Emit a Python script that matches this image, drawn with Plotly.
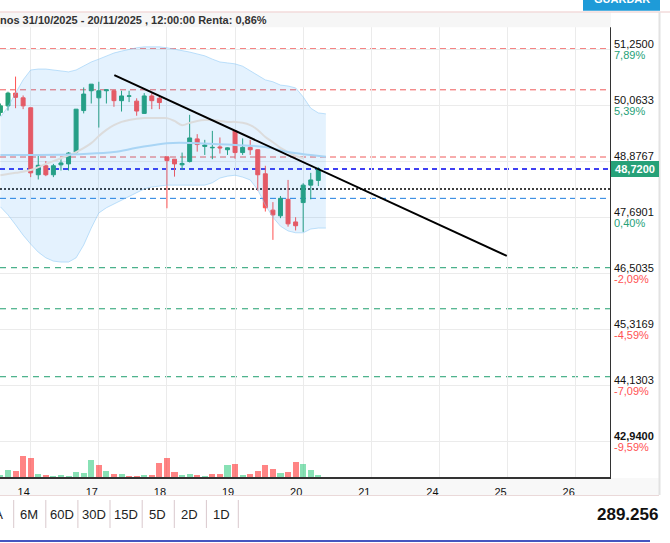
import plotly.graph_objects as go

# ---------------- data ----------------
# hourly candles (index 0 = last bars of day 13, 9 bars per trading day)
idx = list(range(43))
open_ = [49.92, 50.06, 50.33, 50.23, 50.02, 48.60, 48.79, 48.60, 48.81, 48.83,
         49.08, 49.96, 50.38, 50.23, 50.38, 50.38, 50.17, 50.265, 50.16, 49.90,
         50.27, 50.22, 48.98, 48.93, 48.81, 48.88, 49.36, 49.20, 49.17, 49.19,
         49.13, 49.53, 49.07, 49.18, 49.13, 48.62, 47.85, 47.73, 48.08, 47.60,
         48.01, 48.38, 48.48]
high = [50.11, 50.36, 50.68, 50.28, 50.02, 49.02, 48.89, 48.83, 48.93, 49.08,
        49.99, 50.45, 50.52, 50.57, 50.41, 50.40, 50.38, 50.38, 50.22, 50.33,
        50.33, 50.26, 48.98, 48.93, 49.07, 49.87, 49.46, 49.34, 49.53, 49.39,
        49.18, 49.53, 49.37, 49.34, 49.14, 48.79, 48.02, 48.15, 48.49, 47.70,
        48.42, 48.64, 48.76]
low = [49.85, 49.96, 50.01, 49.99, 48.55, 48.50, 48.57, 48.55, 48.69, 48.69,
       49.05, 49.90, 50.11, 49.60, 50.11, 50.04, 49.94, 50.14, 49.85, 49.89,
       49.99, 49.99, 47.89, 48.56, 48.70, 48.86, 49.09, 49.02, 48.93, 49.05,
       49.02, 48.94, 49.02, 49.02, 48.26, 47.82, 47.22, 47.68, 47.50, 47.42,
       47.39, 48.08, 48.36]
close = [50.06, 50.33, 50.24, 50.06, 48.64, 48.80, 48.60, 48.79, 48.85, 49.06,
         49.99, 50.31, 50.52, 50.38, 50.40, 50.17, 50.27, 50.27, 49.95, 50.27,
         50.17, 50.13, 48.90, 48.83, 48.84, 49.38, 49.24, 49.23, 49.18, 49.17,
         49.17, 49.07, 49.18, 49.13, 48.60, 47.90, 47.75, 48.10, 47.56, 47.52,
         48.38, 48.49, 48.72]
volume = [24, 74, 64, 207, 194, 34, 24, 14, 24, 14, 54, 44, 174, 117, 64, 34, 34,
          14, 14, 24, 24, 144, 194, 54, 24, 34, 24, 14, 34, 34, 124, 134, 24, 34,
          64, 124, 84, 44, 54, 154, 134, 74, 24]
vol_up = [1, 1, 0, 0, 0, 1, 0, 1, 1, 1, 1, 1, 1, 0, 1, 0, 1, 0, 0, 1, 0, 0, 0, 0,
          1, 1, 0, 1, 0, 0, 1, 0, 1, 0, 0, 0, 0, 1, 0, 0, 1, 1, 1]

band_x = list(range(44))
band_upper = [49.82, 50.04, 50.33, 50.61, 50.82, 50.84, 50.84, 50.82, 50.80, 50.78,
              50.82, 50.90, 50.99, 51.05, 51.12, 51.18, 51.22, 51.26, 51.29, 51.31,
              51.31, 51.31, 51.29, 51.26, 51.24, 51.20, 51.16, 51.12, 51.05, 50.99,
              50.97, 50.95, 50.90, 50.80, 50.71, 50.61, 50.57, 50.50, 50.48, 50.44,
              50.25, 50.01, 49.91, 49.89]
band_lower = [47.92, 47.75, 47.54, 47.32, 47.13, 46.96, 46.84, 46.77, 46.75, 46.75,
              46.84, 47.11, 47.47, 47.79, 47.90, 47.98, 48.06, 48.13, 48.21, 48.30,
              48.34, 48.36, 48.38, 48.38, 48.38, 48.38, 48.38, 48.38, 48.43, 48.53,
              48.57, 48.59, 48.55, 48.49, 48.28, 47.96, 47.70, 47.51, 47.41, 47.37,
              47.37, 47.45, 47.47, 47.47]
sma_x = [0, 2, 4, 6, 8, 10, 12, 13, 14, 15, 16, 17, 19, 21, 22, 23, 24, 25, 26, 27,
         28, 29, 30, 31, 32, 33, 34, 35, 36, 37, 38, 39, 40]
sma_y = [48.59, 48.64, 48.70, 48.83, 48.95, 49.08, 49.27, 49.42, 49.55, 49.65, 49.72,
         49.76, 49.80, 49.80, 49.80, 49.74, 49.65, 49.70, 49.74, 49.76, 49.76, 49.74,
         49.72, 49.72, 49.70, 49.65, 49.55, 49.40, 49.29, 49.17, 49.08, 49.00, 48.95]
ma2_x = [0, 5, 11, 15, 18, 22, 26, 31, 35, 38, 41, 43]
ma2_y = [49.02, 49.02, 49.04, 49.08, 49.17, 49.27, 49.27, 49.23, 49.19, 49.08, 49.02, 48.98]

trend_x = [15.05, 66.9]
trend_y = [50.71, 46.88]

day_ticks = [4, 13, 22, 31, 40, 49, 58, 67, 76]
day_labels = ["14", "17", "18", "19", "20", "21", "24", "25", "26"]

price_ticks = [51.25, 50.0633, 48.8767, 47.6901, 46.5035, 45.3169, 44.1303, 42.94]
price_labels = ["51,2500", "50,0633", "48,8767", "47,6901", "46,5035", "45,3169",
                "44,1303", "42,9400"]
# percent under 48,8767 is hidden by the last-price box in the reference
pct_labels = ["7,89%", "5,39%", "", "0,40%", "-2,09%", "-4,59%", "-7,09%", "-9,59%"]

resistance_levels = [51.27, 50.40, 48.976]
support_levels = [46.63, 45.76, 44.32]
last_price = 48.72
last_label = "48,7200"
dotted_level = 48.30
blue_level = 48.10

header = "nos 31/10/2025 - 20/11/2025 , 12:00:00 Renta: 0,86%"
buttons = ["1A", "6M", "60D", "30D", "15D", "5D", "2D", "1D"]
counter = "289.256"

# ---------------- styling / geometry ----------------
W, H = 670, 543
ML, MR, MT, MB = 0, 60, 27, 66
PW, PH = W - ML - MR, H - MT - MB
GREEN = "#26a178"
RED = "#ff5252"
FONT = "Liberation Sans, Arial, sans-serif"


def px(X):
    return (X - ML) / PW


def py(Y):
    return (H - MB - Y) / PH


fig = go.Figure()

# Bollinger band
fig.add_trace(go.Scatter(x=band_x, y=band_upper, mode="lines",
                         line=dict(color="rgba(140,200,245,0.55)", width=1),
                         hoverinfo="skip"))
fig.add_trace(go.Scatter(x=band_x, y=band_lower, mode="lines", fill="tonexty",
                         fillcolor="rgba(33,150,243,0.12)",
                         line=dict(color="rgba(140,200,245,0.55)", width=1),
                         hoverinfo="skip"))
fig.add_trace(go.Scatter(x=sma_x, y=sma_y, mode="lines", line_shape="spline",
                         line=dict(color="#dcdcdc", width=2), hoverinfo="skip"))
fig.add_trace(go.Scatter(x=ma2_x, y=ma2_y, mode="lines", line_shape="spline",
                         line=dict(color="#a9d5f5", width=2), hoverinfo="skip"))

# volume
fig.add_trace(go.Bar(x=idx, y=volume, yaxis="y2", width=0.8,
                     marker=dict(color=["rgba(38,200,120,0.55)" if u else "rgba(255,50,50,0.6)"
                                        for u in vol_up], line=dict(width=0)),
                     hoverinfo="skip"))

# candles
fig.add_trace(go.Candlestick(x=idx, open=open_, high=high, low=low, close=close,
                             increasing=dict(line=dict(color=GREEN, width=1), fillcolor=GREEN),
                             decreasing=dict(line=dict(color=RED, width=1), fillcolor=RED),
                             whiskerwidth=0, hoverinfo="skip"))

# trend line
fig.add_trace(go.Scatter(x=trend_x, y=trend_y, mode="lines",
                         line=dict(color="black", width=2), hoverinfo="skip"))

shapes = []
for lv in resistance_levels:
    shapes.append(dict(type="line", xref="paper", x0=0, x1=1, yref="y", y0=lv, y1=lv,
                       line=dict(color="#f05a5a", width=1, dash="6px,4px"), layer="between"))
for lv in support_levels:
    shapes.append(dict(type="line", xref="paper", x0=0, x1=1, yref="y", y0=lv, y1=lv,
                       line=dict(color="#1e9e6e", width=1, dash="6px,5px"), layer="between"))
shapes.append(dict(type="line", xref="paper", x0=0, x1=1, yref="y", y0=last_price, y1=last_price,
                   line=dict(color="#0000ee", width=1.5, dash="5px,4px"), layer="between"))
shapes.append(dict(type="line", xref="paper", x0=0, x1=1, yref="y", y0=dotted_level, y1=dotted_level,
                   line=dict(color="#000000", width=1.5, dash="2px,2px"), layer="between"))
shapes.append(dict(type="line", xref="paper", x0=0, x1=1, yref="y", y0=blue_level, y1=blue_level,
                   line=dict(color="#1f7fe0", width=1, dash="6px,4px"), layer="between"))

# page chrome
shapes += [
    dict(type="rect", xref="paper", yref="paper", x0=px(0), x1=px(611), y0=py(27.3), y1=py(12.5),
         fillcolor="#f6f6f6", line=dict(width=0)),
    dict(type="line", xref="paper", yref="paper", x0=px(0), x1=px(670), y0=py(12), y1=py(12),
         line=dict(color="#ecc9c9", width=1)),
    dict(type="rect", xref="paper", yref="paper", x0=px(583), x1=px(660), y0=py(10.7), y1=py(-6),
         fillcolor="#1e9bd8", line=dict(width=0)),
    dict(type="rect", xref="paper", yref="paper", x0=px(0), x1=px(659), y0=py(495), y1=py(478),
         fillcolor="#f8f8f8", line=dict(width=0), layer="below"),
    dict(type="line", xref="paper", yref="paper", x0=px(0), x1=px(659), y0=py(495.5), y1=py(495.5),
         line=dict(color="#ead9d9", width=1)),
    dict(type="line", xref="paper", yref="paper", x0=px(659.5), x1=px(659.5), y0=py(495), y1=py(12),
         line=dict(color="#e2e2e2", width=2)),
    dict(type="line", xref="paper", yref="paper", x0=px(0), x1=px(650), y0=py(541), y1=py(541),
         line=dict(color="#4556c0", width=2)),
]
sep_x = [13.7, 45.8, 77.9, 110, 142.2, 174.3, 206.4, 238.3]
for sx in sep_x:
    shapes.append(dict(type="line", xref="paper", yref="paper", x0=px(sx), x1=px(sx),
                       y0=py(528), y1=py(500), line=dict(color="#d9c9cd", width=1)))

annotations = []
for v, pl, pc in zip(price_ticks, price_labels, pct_labels):
    bold = v == price_ticks[-1]
    annotations.append(dict(xref="paper", x=px(612), xanchor="left", yref="y", y=v, yshift=5.5,
                            yanchor="middle",
                            text=f"<b>{pl}</b>" if bold else pl, showarrow=False,
                            font=dict(family=FONT, size=11, color="#111")))
    if pc:
        annotations.append(dict(xref="paper", x=px(612), xanchor="left", yref="y", y=v, yshift=-5.5,
                                yanchor="middle", text=pc, showarrow=False,
                                font=dict(family=FONT, size=11,
                                          color=RED if pc.startswith("-") else GREEN)))
annotations.append(dict(xref="paper", x=px(611), xanchor="left", yref="y", y=last_price,
                        yanchor="middle",
                        text=f"<b>{last_label}</b>", showarrow=False, bgcolor=GREEN,
                        bordercolor=GREEN, borderpad=1, width=44, height=12,
                        font=dict(family=FONT, size=11, color="white")))
annotations.append(dict(xref="paper", x=px(0), xanchor="left", xshift=-2, yref="paper", y=py(20),
                        yanchor="middle", text=f"<b>{header}</b>", showarrow=False,
                        font=dict(family=FONT, size=11, color="#333")))
annotations.append(dict(xref="paper", x=px(621.5), xanchor="center", yref="paper", y=py(-1.5),
                        yanchor="middle", text="<b>GUARDAR</b>", showarrow=False,
                        font=dict(family=FONT, size=11, color="white")))
btn_x = [5, 29, 62, 93.5, 125.5, 157.5, 189.5, 221.5]
for bx, bt in zip(btn_x, buttons):
    annotations.append(dict(xref="paper", x=px(bx), xanchor="right" if bt == "1A" else "center",
                            yref="paper", y=py(514), yanchor="middle", text=bt, showarrow=False,
                            font=dict(family=FONT, size=13, color="#222")))
annotations.append(dict(xref="paper", x=px(660), xanchor="right", yref="paper", y=py(514),
                        yanchor="middle", text=f"<b>{counter}</b>", showarrow=False,
                        font=dict(family=FONT, size=17, color="#111")))

fig.update_layout(
    template="none",
    width=W, height=H,
    margin=dict(l=ML, r=MR, t=MT, b=MB),
    paper_bgcolor="white", plot_bgcolor="white",
    showlegend=False, boxgap=0.25, bargap=0,
    hovermode=False,
    shapes=shapes, annotations=annotations,
    xaxis=dict(range=[-0.055, 80.535], tickmode="array", tickvals=day_ticks, ticktext=day_labels,
               showgrid=True, gridcolor="#ebebeb", gridwidth=1, zeroline=False,
               showline=True, linecolor="#333", linewidth=1.5, ticks="",
               tickfont=dict(family=FONT, size=11, color="#111"),
               ticklabelshift=-7, ticklabelstandoff=4,
               rangeslider=dict(visible=False), automargin=False),
    yaxis=dict(range=[42.195, 51.731], side="right", tickmode="array", tickvals=price_ticks,
               showticklabels=False, showgrid=True, gridcolor="#ebebeb", gridwidth=1,
               zeroline=False, showline=True, linecolor="#333", linewidth=1, ticks="",
               automargin=False),
    yaxis2=dict(overlaying="y", range=[0, 4500], visible=False, automargin=False),
)

fig.write_html("out.html")
